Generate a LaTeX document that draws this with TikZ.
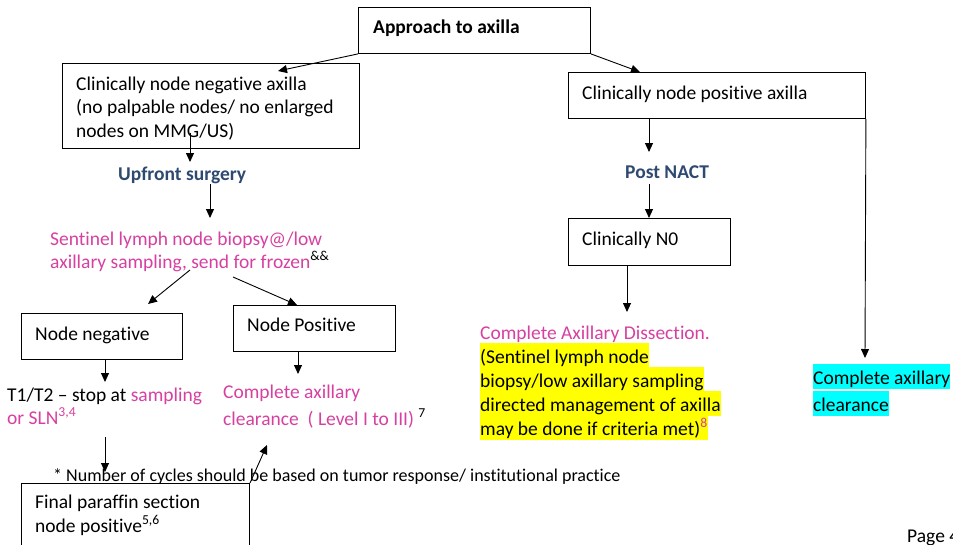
\documentclass[tikz,border=0pt]{standalone}
\usepackage{fontspec}
\setmainfont{Carlito}[Ligatures=NoCommon]
\usetikzlibrary{arrows.meta,calc}
\definecolor{mag}{RGB}{214,64,160}
\definecolor{navy}{RGB}{46,74,112}
\definecolor{hlyellow}{RGB}{255,255,0}
\definecolor{hlcyan}{RGB}{0,255,255}
\newcommand\fnt{\fontsize{19.5}{24}\selectfont}
\newcommand\smallfnt{\fontsize{18}{22}\selectfont}
\begin{document}
\begin{tikzpicture}[x=1pt,y=-1pt,
  every node/.style={inner sep=0pt,font=\fnt},
  box/.style={draw,line width=0.9pt,anchor=north west,fill=white},
  t/.style={anchor=base west},
  hly/.style={t,fill=hlyellow,text height=20pt,text depth=5pt},
  hlc/.style={t,fill=hlcyan,text height=20pt,text depth=5pt},
  arr/.style={-{Triangle[length=9pt,width=8pt]},line width=0.9pt}]
\useasboundingbox (0,0) rectangle (953,544);

% footnote line, partly hidden under the last box
\node[t,font=\smallfnt] (cycles) at (53,481) {* Number of cycles should be based on tumor response/ institutional practice};

% boxes
\node[box,minimum width=232pt,minimum height=46pt] (app) at (358,7) {};
\node[box,minimum width=297pt,minimum height=85pt] (cneg) at (62,63) {};
\node[box,minimum width=297pt,minimum height=46pt] (cpos) at (568,72) {};
\node[box,minimum width=162pt,minimum height=47pt] (cn0) at (568,218) {};
\node[box,minimum width=161pt,minimum height=46pt] (nneg) at (21,313) {};
\node[box,minimum width=162pt,minimum height=46pt] (npos) at (233,305) {};
\node[box,minimum width=228pt,minimum height=62pt] (fps) at (21,483) {};

% box texts
\node[t,font=\fnt\bfseries] (appT) at (373,33) {Approach to axilla};
\node[t] (cnegT1) at (76,90) {Clinically node negative axilla};
\node[t] (cnegT2) at (76,113) {(no palpable nodes/ no enlarged};
\node[t] (cnegT3) at (76,137) {nodes on MMG/US)};
\node[t] (cposT) at (582,99) {Clinically node positive axilla};
\node[t] (cn0T) at (582,245) {Clinically N0};
\node[t] (nnegT) at (35,340) {Node negative};
\node[t] (nposT) at (247,331) {Node Positive};
\node[t] (fpsT1) at (35,508) {Final paraffin section};
\node[t] (fpsT2) at (35,532) {node positive\textsuperscript{5,6}};

% free texts
\node[t,font=\fnt\bfseries,text=navy] (upfront) at (118,180) {Upfront surgery};
\node[t,font=\fnt\bfseries,text=navy] (nact) at (625,178) {Post NACT};
\node[t,text=mag] (sln1) at (50,245) {Sentinel lymph node biopsy@/low};
\node[t,text=mag] (sln2) at (50,268) {axillary sampling, send for frozen\textsuperscript{\color{black}\&\&}};
\node[t] (stop1) at (7,401) {T1/T2 -- stop at \textcolor{mag}{sampling}};
\node[t,text=mag] (stop2) at (7,424) {or SLN\textsuperscript{3,4}};
\node[t,text=mag] (cac1) at (223,398) {Complete axillary};
\node[t,text=mag] (cac2) at (223,425) {clearance\ \ ( Level I to III) \textsuperscript{\color{black}7}};
\node[t,text=mag] (cad) at (480,339) {Complete Axillary Dissection.};
\node[hly] (cad1) at (480,363) {(Sentinel lymph node};
\node[hly] (cad2) at (480,387) {biopsy/low axillary sampling};
\node[hly] (cad3) at (480,411) {directed management of axilla};
\node[hly] (cad4) at (480,435) {may be done if criteria met)\textsuperscript{\color{mag}8}};
\node[hlc] (cc1) at (813,384) {Complete axillary};
\node[hlc] (cc2) at (813,411) {clearance};
\node[t] (page) at (907,542) {Page 4};

% connector ends
\coordinate (e1) at (278,71);
\coordinate (s3) at (190,133);
\coordinate (e3) at (190,162);
\coordinate (s4) at (210,184);
\coordinate (e4) at (210,218);
\coordinate (s5) at (190,270);
\coordinate (e5) at (148,304);
\coordinate (s6) at (233,277);
\coordinate (e7) at (105,382);
\coordinate (e8) at (298,374);
\coordinate (s9) at (105,437);
\coordinate (e9) at (105,472);
\coordinate (s10) at (250,483);
\coordinate (e10) at (267,445);
\coordinate (e11) at (649,152);
\coordinate (s12) at (649,184);
\coordinate (e13) at (627,312);
\coordinate (e14) at (865,358);

% connectors
\draw[arr] (app.south west) -- (e1);
\draw[arr] (app.south east) -- (cpos.north west -| 640,0);
\draw[arr] (s3) -- (e3);
\draw[arr] (s4) -- (e4);
\draw[arr] (s5) -- (e5);
\draw[arr] (s6) -- (npos.north west -| 297,0);
\draw[arr] (nneg.south -| e7) -- (e7);
\draw[arr] (npos.south -| e8) -- (e8);
\draw[arr] (s9) -- (e9);
\draw[arr] (s10) -- (e10);
\draw[arr] (cpos.south -| e11) -- (e11);
\draw[arr] (s12) -- (cn0.north -| s12);
\draw[arr] (cn0.south -| e13) -- (e13);
\draw[arr] (cpos.south east) -- (e14);
\end{tikzpicture}
\end{document}
